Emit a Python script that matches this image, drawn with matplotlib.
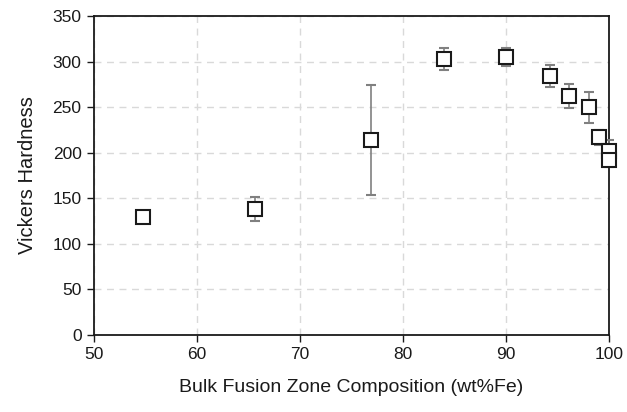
import numpy as np
import matplotlib.pyplot as plt

plt.rcParams['font.family'] = ['Liberation Sans', 'DejaVu Sans']

# composition (wt% Fe), hardness, error
comp = [54.8, 65.6, 76.9, 84.0, 90.0, 94.3, 96.1, 98.1, 99.0, 100.0, 100.0]
hv = [130, 138, 214, 303, 305, 284, 262, 250, 217, 202, 192]
err = [5, 13, 60, 12, 10, 12, 13, 17, 8, 12, 8]

fig, ax = plt.subplots(figsize=(6.27, 4.12), dpi=100)
fig.subplots_adjust(left=0.150, right=0.971, top=0.961, bottom=0.187)

ax.errorbar(comp, hv, yerr=err, fmt='s', mfc='white', mec='#1a1a1a', mew=1.5,
            ms=9.5, ecolor='#808080', elinewidth=1.2, capsize=3.5, capthick=1.2,
            zorder=3, clip_on=False)

ax.set_xlim(50, 100)
ax.set_ylim(0, 350)
ax.set_xticks(np.arange(50, 101, 10))
ax.set_yticks(np.arange(0, 351, 50))
ax.grid(True, color='#d9d9d9', linestyle=(0, (5, 4)), linewidth=1)
ax.set_axisbelow(True)

for s in ax.spines.values():
    s.set_color('#1a1a1a')
    s.set_linewidth(1.3)

ax.tick_params(direction='out', length=5, width=1, colors='#1a1a1a',
               labelsize=12.5, pad=4)
ax.set_xlabel('Bulk Fusion Zone Composition (wt%Fe)', fontsize=14, labelpad=12,
              color='#1a1a1a')
ax.set_ylabel('Vickers Hardness', fontsize=14.5, labelpad=11, color='#1a1a1a')

fig.savefig('out.png', dpi=100)
